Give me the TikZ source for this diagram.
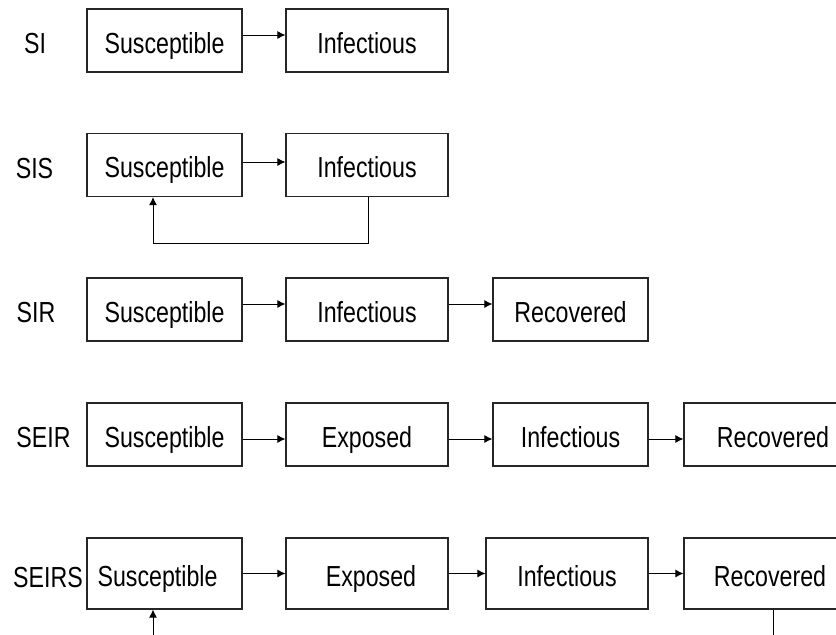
\documentclass[tikz,border=0pt]{standalone}
\usepackage{fontspec}
\setmainfont{Liberation Sans}[FakeStretch=0.8]
\usetikzlibrary{arrows.meta}

\begin{document}
\begin{tikzpicture}[x=1pt,y=-1pt,
  txt/.style={font=\fontsize{29}{29}\selectfont},
  stage/.style={txt,draw=black!85,line width=1.2pt,rectangle,inner sep=0pt,
    minimum height=63pt,text height=25pt,text depth=0pt},
  narrow/.style={minimum width=155pt},
  wide/.style={minimum width=162pt},
  model/.style={txt,anchor=base,inner sep=0pt},
  flow/.style={-{Latex[length=8pt,width=8pt]},line width=1pt},
  link/.style={line width=1pt}]
\path[use as bounding box] (0,0) rectangle (836,635);
\clip (0,0) rectangle (836,635);

% SI
\node[model] (si) at (35,53) {SI};
\node[stage,narrow] (si-s) at (164.5,40.5) {Susceptible};
\node[stage,wide] (si-i) at (367,40.5) {Infectious};
\draw[flow] ([yshift=5.5pt]si-s.east) -- ([yshift=5.5pt]si-i.west);

% SIS
\node[model] (sis) at (34.5,178) {SIS};
\node[stage,narrow] (sis-s) at (164.5,165) {Susceptible};
\node[stage,wide] (sis-i) at (367,165) {Infectious};
\draw[flow] ([yshift=3pt]sis-s.east) -- ([yshift=3pt]sis-i.west);
\draw[flow] ([xshift=1pt]sis-i.south) -- ++(0,46) -| ([xshift=-11.5pt]sis-s.south);

% SIR
\node[model] (sir) at (36,322) {SIR};
\node[stage,narrow] (sir-s) at (164.5,309.5) {Susceptible};
\node[stage,wide] (sir-i) at (367,309.5) {Infectious};
\node[stage,narrow] (sir-r) at (570.5,309.5) {Recovered};
\draw[flow] ([yshift=5.5pt]sir-s.east) -- ([yshift=5.5pt]sir-i.west);
\draw[flow] ([yshift=5.5pt]sir-i.east) -- ([yshift=5.5pt]sir-r.west);

% SEIR
\node[model] (seir) at (43.5,447) {SEIR};
\node[stage,narrow] (seir-s) at (164.5,434.5) {Susceptible};
\node[stage,wide] (seir-e) at (367,434.5) {Exposed};
\node[stage,narrow] (seir-i) at (570.5,434.5) {Infectious};
\node[stage,minimum width=178pt] (seir-r) at (773,434.5) {Recovered};
\draw[flow] ([yshift=-4.5pt]seir-s.east) -- ([yshift=-4.5pt]seir-e.west);
\draw[flow] ([yshift=-4.5pt]seir-e.east) -- ([yshift=-4.5pt]seir-i.west);
\draw[flow] ([yshift=-4.5pt]seir-i.east) -- ([yshift=-4.5pt]seir-r.west);

% SEIRS
\node[model] (seirs) at (48,587) {SEIRS};
\node[stage,narrow,minimum height=71pt] (seirs-s) at (164.5,573.5) {\hspace*{-14pt}Susceptible};
\node[stage,wide,minimum height=71pt] (seirs-e) at (367,573.5) {\hspace*{8pt}Exposed};
\node[stage,wide,minimum height=71pt] (seirs-i) at (567,573.5) {Infectious};
\node[stage,minimum width=178pt,minimum height=71pt] (seirs-r) at (773,573.5) {\hspace*{-6pt}Recovered};
\draw[flow] (seirs-s) -- (seirs-e);
\draw[flow] (seirs-e) -- (seirs-i);
\draw[flow] (seirs-i) -- (seirs-r);
\coordinate (seirs-out) at (773,660);
\coordinate (seirs-in) at (153,660);
\draw[link] (seirs-r.south) -- (seirs-out);
\draw[flow] (seirs-in) -- (seirs-in |- seirs-s.south);
\end{tikzpicture}
\end{document}
